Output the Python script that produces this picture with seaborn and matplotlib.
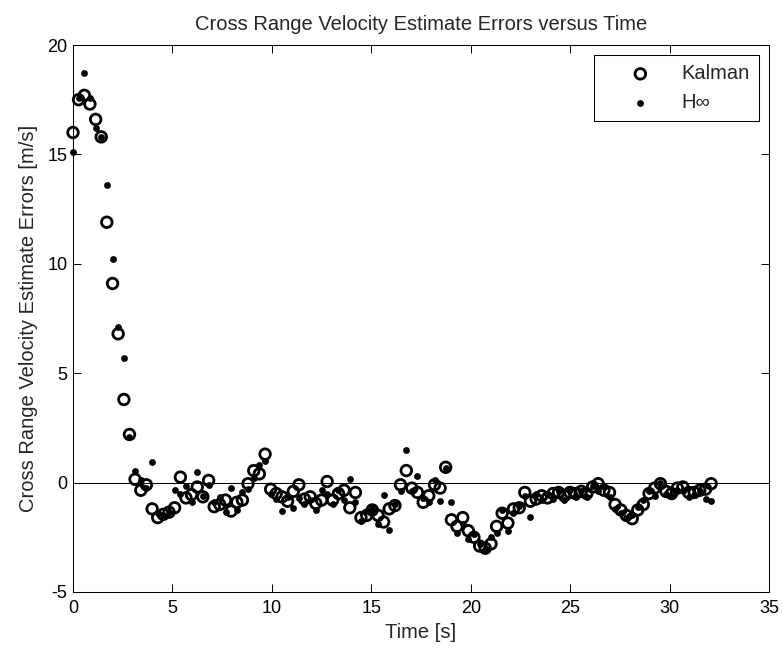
import matplotlib
matplotlib.use("Agg")
import matplotlib.pyplot as plt
import seaborn as sns
import pandas as pd

time_s = [0.00, 0.28, 0.57, 0.85, 1.14, 1.42, 1.70, 1.99, 2.27, 2.56,
          2.84, 3.12, 3.41, 3.69, 3.98, 4.26, 4.54, 4.83, 5.11, 5.40,
          5.68, 5.96, 6.25, 6.53, 6.82, 7.10, 7.38, 7.67, 7.95, 8.24,
          8.52, 8.80, 9.09, 9.37, 9.66, 9.94, 10.22, 10.51, 10.79, 11.08,
          11.36, 11.64, 11.93, 12.21, 12.50, 12.78, 13.06, 13.35, 13.63, 13.92,
          14.20, 14.48, 14.77, 15.05, 15.34, 15.62, 15.90, 16.19, 16.47, 16.76,
          17.04, 17.32, 17.61, 17.89, 18.18, 18.46, 18.74, 19.03, 19.31, 19.60,
          19.88, 20.16, 20.45, 20.73, 21.02, 21.30, 21.58, 21.87, 22.15, 22.44,
          22.72, 23.00, 23.29, 23.57, 23.86, 24.14, 24.42, 24.71, 24.99, 25.28,
          25.56, 25.84, 26.13, 26.41, 26.70, 26.98, 27.26, 27.55, 27.83, 28.12,
          28.40, 28.68, 28.97, 29.25, 29.54, 29.82, 30.10, 30.39, 30.67, 30.96,
          31.24, 31.52, 31.81, 32.09]

kalman = [16.0, 17.5, 17.7, 17.3, 16.6, 15.8, 11.9, 9.1, 6.8, 3.8,
          2.2, 0.15, -0.35, -0.1, -1.2, -1.6, -1.45, -1.35, -1.15, 0.25,
          -0.7, -0.55, -0.2, -0.65, 0.1, -1.1, -1.0, -0.8, -1.3, -0.9,
          -0.8, -0.05, 0.55, 0.4, 1.3, -0.3, -0.5, -0.65, -0.85, -0.4,
          -0.1, -0.75, -0.65, -0.95, -0.8, 0.05, -0.8, -0.5, -0.35, -1.15,
          -0.45, -1.6, -1.5, -1.25, -1.5, -1.8, -1.2, -1.05, -0.1, 0.55,
          -0.25, -0.45, -0.9, -0.6, -0.1, -0.25, 0.7, -1.7, -2.0, -1.6,
          -2.2, -2.5, -2.9, -3.0, -2.8, -2.0, -1.4, -1.85, -1.2, -1.15,
          -0.45, -0.85, -0.75, -0.6, -0.7, -0.5, -0.45, -0.6, -0.45, -0.5,
          -0.4, -0.5, -0.2, -0.05, -0.35, -0.45, -1.0, -1.25, -1.5, -1.65,
          -1.25, -1.0, -0.5, -0.25, -0.05, -0.4, -0.5, -0.25, -0.2, -0.45,
          -0.45, -0.35, -0.3, -0.05]

h_inf = [15.1, 17.6, 18.7, 17.6, 16.2, 15.8, 13.6, 10.2, 7.1, 5.7,
         2.1, 0.55, 0.1, -0.25, 0.95, -1.4, -1.5, -1.35, -0.35, -0.5,
         -0.15, -0.9, 0.5, -0.6, -0.1, -0.9, -0.65, -1.35, -0.25, -1.25,
         -0.45, -0.3, 0.2, 0.8, 1.0, -0.5, -0.75, -1.3, -0.65, -1.15,
         -0.7, -1.0, -0.8, -1.25, -0.35, -0.5, -1.0, -0.35, -0.8, 0.15,
         -0.9, -1.75, -1.3, -1.15, -1.9, -0.55, -2.15, -1.0, -0.4, 1.5,
         -0.4, 0.3, -0.7, -0.9, 0.1, -0.85, 0.65, -0.9, -2.3, -1.9,
         -2.6, -2.35, -2.8, -3.1, -2.5, -2.3, -1.25, -2.2, -1.4, -1.05,
         -0.6, -1.55, -0.5, -0.8, -0.5, -0.75, -0.4, -0.8, -0.35, -0.65,
         -0.4, -0.65, -0.15, -0.4, -0.2, -0.65, -1.2, -1.4, -1.6, -1.5,
         -1.1, -0.8, -0.4, -0.6, 0.0, -0.5, -0.6, -0.35, -0.4, -0.65,
         -0.55, -0.4, -0.75, -0.85]

x_ticks = [0, 5, 10, 15, 20, 25, 30, 35]
y_ticks = [-5, 0, 5, 10, 15, 20]

df = pd.DataFrame({"time": time_s, "kalman": kalman, "hinf": h_inf})

sns.set_style("ticks")
plt.rcParams["font.family"] = ["Liberation Sans", "DejaVu Sans"]
plt.rcParams["axes.unicode_minus"] = False

W, H = 782, 651
fig = plt.figure(figsize=(W / 100, H / 100), dpi=100)
L, R, T, B = 73, 769, 45, 592
ax = fig.add_axes([L / W, 1 - B / H, (R - L) / W, (B - T) / H])

ax.axhline(0, color="black", linewidth=0.75, zorder=1)

sns.scatterplot(data=df, x="time", y="kalman", ax=ax, marker="o", s=58,
                facecolor="none", edgecolor="black", linewidth=2.0,
                label="Kalman", zorder=2, clip_on=False)
sns.scatterplot(data=df, x="time", y="hinf", ax=ax, marker="o", s=24,
                color="black", edgecolor="black", linewidth=0,
                label="H\u221e", zorder=3, clip_on=False)

ax.set_xlim(0, 35)
ax.set_ylim(-5, 20)
ax.set_xticks(x_ticks)
ax.set_yticks(y_ticks)
ax.tick_params(axis="both", which="both", direction="in", top=True, right=True,
               labelsize=13, length=5.5, width=0.7, colors="black")
ax.tick_params(axis="x", pad=6)
ax.tick_params(axis="y", pad=4)
for sp in ax.spines.values():
    sp.set_visible(True)
    sp.set_linewidth(0.75)
    sp.set_color("black")

ax.set_xlabel("Time [s]", fontsize=14.5, labelpad=4)
ax.set_ylabel("Cross Range Velocity Estimate Errors [m/s]", fontsize=14.5, labelpad=7)
ax.set_title("Cross Range Velocity Estimate Errors versus Time", fontsize=14.5, pad=11)

leg = ax.legend(loc="upper right", frameon=True, fancybox=False, fontsize=14.5,
                borderpad=0.45, handletextpad=0.2, labelspacing=0.5,
                borderaxespad=0.5, handlelength=3.7, scatterpoints=1)
leg.get_frame().set_edgecolor("black")
leg.get_frame().set_linewidth(0.75)
leg.get_frame().set_alpha(1)

fig.savefig("out.png", dpi=100)
